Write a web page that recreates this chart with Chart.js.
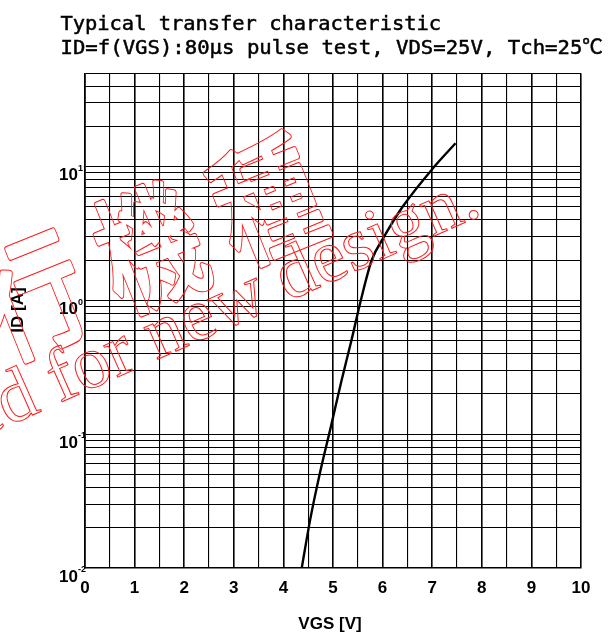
<!DOCTYPE html>
<html>
<head>
<meta charset="utf-8">
<script src="https://cdn.jsdelivr.net/npm/chart.js@4/dist/chart.umd.min.js"></script>
<style>
  html, body { margin: 0; padding: 0; background: #fff; }
  canvas { display: block; }
</style>
</head>
<body>
<canvas id="chart" width="609" height="637"></canvas>
<script>
// Transfer characteristic ID = f(VGS)
const vgs = [4.37, 4.54, 4.74, 4.96, 5.17, 5.37, 5.56, 5.78, 6.03, 6.40, 7.04, 7.47];
const idA = [0.010, 0.023, 0.052, 0.115, 0.25, 0.50, 1.00, 2.00, 3.00, 5.00, 10.0, 15.0];

// Axis ranges and labels
const xMin = 0, xMax = 10, xStep = 0.5;
const yMin = 0.01, yMax = 50;
const yDecades = [0.01, 0.1, 1, 10];
const yExponents = ['-2', '-1', '0', '1'];
const yMantissas = [1, 2, 3, 4, 5, 6, 7, 8, 9];

const titleLines = ['Typical transfer characteristic', 'ID=f(VGS):80μs pulse test, VDS=25V, Tch=25℃'];
const xTitle = 'VGS [V]';
const yTitle = 'ID [A]';
const stampCJK = ['行', '機', '種'];
const stampText = 'Not recommended for new design.';

// log grid: every mantissa of every decade up to the top of the scale
const yGrid = [];
yDecades.forEach(d => yMantissas.forEach(m => {
  const v = parseFloat((d * m).toPrecision(3));
  if (v <= yMax) yGrid.push(v);
}));

const points = vgs.map((x, i) => ({ x: x, y: idA[i] }));

const deg = Math.PI / 180;

// outline of a thickened glyph: thick stroke minus a slightly thinner one
function hollowText(target, drawFn, grow) {
  const off = document.createElement('canvas');
  off.width = target.canvas.width;
  off.height = target.canvas.height;
  const o = off.getContext('2d');
  o.strokeStyle = '#ff1a1a';
  o.fillStyle = '#ff1a1a';
  o.lineJoin = 'round';
  o.lineWidth = 2 * grow + 1.2;
  drawFn(o);
  o.globalCompositeOperation = 'destination-out';
  o.lineWidth = 2 * grow - 0.8;
  drawFn(o);
  target.drawImage(off, 0, 0);
}

// text stretched or squeezed to span a given width
function fitText(ctx, text, x, y, width) {
  const w = ctx.measureText(text).width;
  ctx.save();
  ctx.translate(x, y);
  ctx.scale(width / w, 1);
  ctx.fillText(text, 0, 0);
  ctx.strokeText(text, 0, 0);
  ctx.restore();
}

const decor = {
  id: 'decor',
  afterDraw(chart) {
    const ctx = chart.ctx;
    const ys = chart.scales.y;

    // y tick labels as 10 with a raised exponent
    ctx.save();
    ctx.fillStyle = '#000';
    yDecades.forEach((v, i) => {
      const py = ys.getPixelForValue(v);
      ctx.font = 'bold 17px "Liberation Sans", Arial, sans-serif';
      ctx.textAlign = 'right';
      ctx.textBaseline = 'alphabetic';
      ctx.fillText('10', 78, py + 13.6);
      ctx.font = 'bold 9px "Liberation Sans", Arial, sans-serif';
      ctx.textAlign = 'left';
      ctx.fillText(yExponents[i], 78, py + 4);
    });
    ctx.restore();

    // heading, two lines
    ctx.save();
    ctx.fillStyle = '#000';
    ctx.strokeStyle = '#000';
    ctx.lineWidth = 0.5;
    ctx.textBaseline = 'alphabetic';
    ctx.textAlign = 'left';
    ctx.font = '20px "DejaVu Sans Mono", "Noto Sans CJK JP", monospace';
    fitText(ctx, titleLines[0], 60.5, 29.5, 441 - 60.5);
    fitText(ctx, titleLines[1], 60.5, 53.5, 603 - 60.5);
    ctx.restore();

    // axis titles
    ctx.save();
    ctx.fillStyle = '#000';
    ctx.font = 'bold 17px "Liberation Sans", Arial, sans-serif';
    ctx.textAlign = 'center';
    ctx.textBaseline = 'middle';
    ctx.fillText(xTitle, 330, 624);
    ctx.translate(18.5, 310);
    ctx.rotate(-90 * deg);
    ctx.fillText(yTitle, 0, 0);
    ctx.restore();

    // red outlined stamp across the plot
    const a1 = -22 * deg;
    const c0 = { x: 266, y: 200 }, step = 126;
    hollowText(ctx, (o) => {
      o.font = '124px "Noto Sans CJK JP", "Noto Sans CJK SC", sans-serif';
      o.textAlign = 'center';
      o.textBaseline = 'middle';
      stampCJK.forEach((ch, i) => {
        const k = stampCJK.length - 1 - i;
        const cx = c0.x - k * step * Math.cos(a1);
        const cy = c0.y - k * step * Math.sin(a1);
        o.save();
        o.translate(cx, cy);
        o.rotate(a1);
        o.scale(0.82, 1.04);
        o.strokeText(ch, 0, 0);
        o.fillText(ch, 0, 0);
        o.restore();
      });
    }, 2.4);

    ctx.save();
    ctx.strokeStyle = '#ff1a1a';
    ctx.lineWidth = 1;
    ctx.translate(483.6, 214.2);
    ctx.rotate(-24 * deg);
    ctx.font = '75px "Liberation Serif", "Times New Roman", serif';
    ctx.textAlign = 'right';
    ctx.textBaseline = 'alphabetic';
    ctx.strokeText(stampText, 0, 0);
    ctx.restore();
  }
};

new Chart(document.getElementById('chart'), {
  type: 'line',
  data: {
    datasets: [{
      data: points,
      borderColor: '#000',
      borderWidth: 2.4,
      pointRadius: 0,
      cubicInterpolationMode: 'monotone',
      fill: false
    }]
  },
  options: {
    responsive: false,
    animation: false,
    devicePixelRatio: 1,
    layout: { padding: { top: 73.3, right: 28, left: 0, bottom: 0 } },
    plugins: { legend: { display: false }, tooltip: { enabled: false }, title: { display: false } },
    scales: {
      x: {
        type: 'linear',
        min: xMin, max: xMax,
        afterFit(scale) { scale.height = 69; },
        ticks: {
          stepSize: xStep,
          autoSkip: false,
          maxRotation: 0,
          padding: 10,
          color: '#000',
          font: { family: '"Liberation Sans", Arial, sans-serif', size: 17, weight: 'bold' },
          callback: v => (Number.isInteger(v) ? String(v) : '')
        },
        grid: {
          color: '#000',
          drawTicks: false,
          lineWidth: c => (c.tick && Number.isInteger(c.tick.value) ? 1.6 : 1.1)
        },
        border: { display: true, color: '#000', width: 1.5 }
      },
      y: {
        type: 'logarithmic',
        min: yMin, max: yMax,
        afterFit(scale) { scale.width = 85; },
        afterBuildTicks(scale) { scale.ticks = yGrid.map(v => ({ value: v })); },
        ticks: { display: false },
        grid: { color: '#000', drawTicks: false, lineWidth: 1.1 },
        border: { display: true, color: '#000', width: 1.5 }
      }
    }
  },
  plugins: [decor]
});
</script>
</body>
</html>
